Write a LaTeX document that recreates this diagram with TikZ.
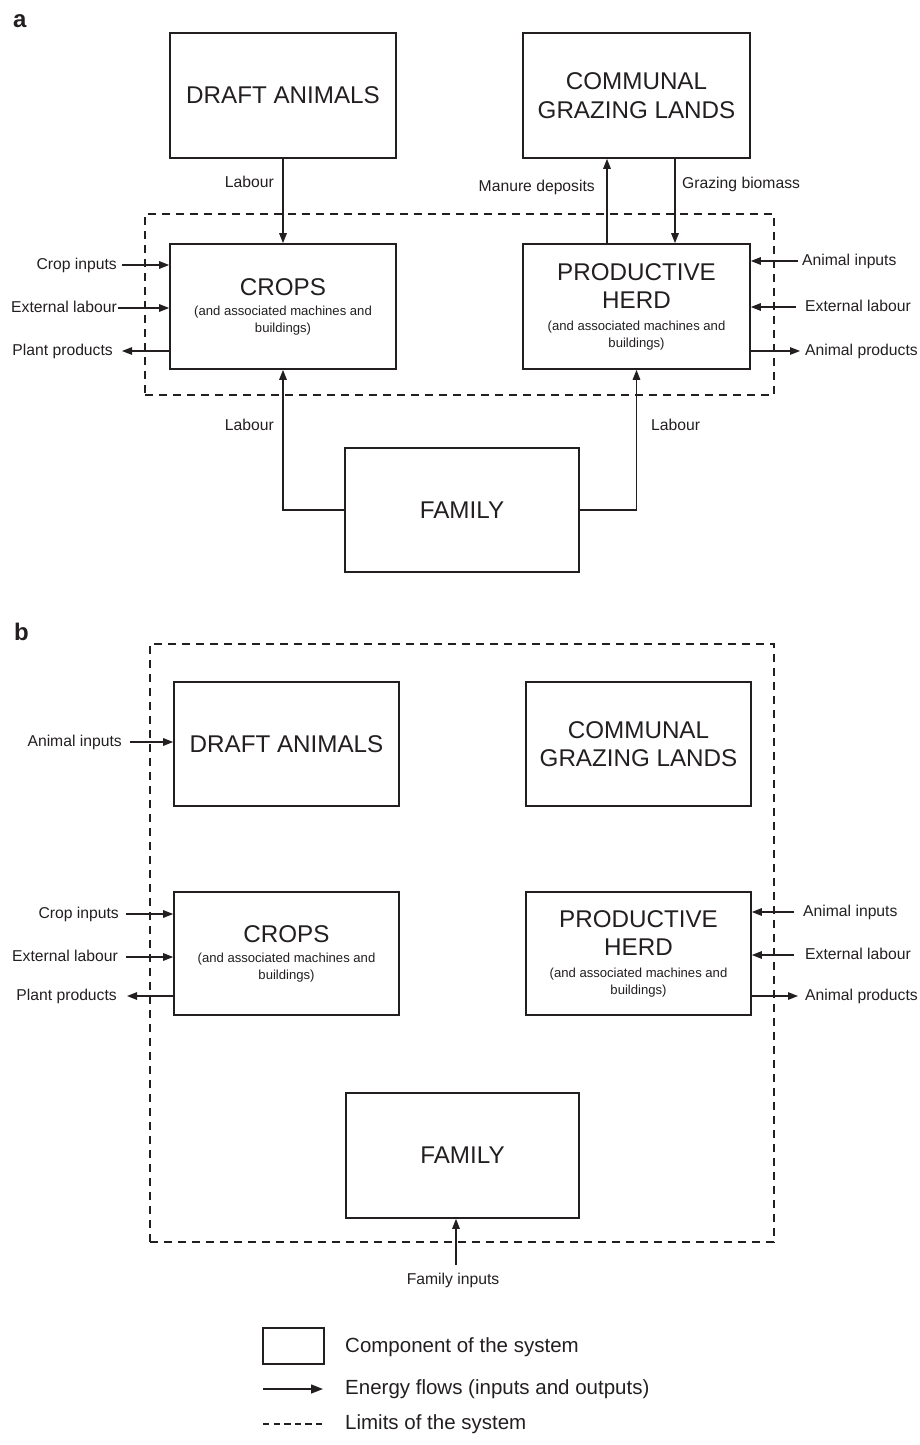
\documentclass[tikz,border=0pt]{standalone}
\usepackage{fontspec}
\setmainfont{Liberation Sans}
\usetikzlibrary{arrows.meta}
\definecolor{ink}{RGB}{35,31,32}
\newcommand\boxtitlefont{\fontsize{24.2}{28.5}\selectfont}
\newcommand\boxnotefont{\fontsize{13.1}{17}\selectfont}
\newcommand\flowlabelfont{\fontsize{15.7}{19}\selectfont}
\newcommand\legendfont{\fontsize{20.5}{24}\selectfont}
\newcommand\panelletterfont{\fontsize{24}{28}\selectfont\bfseries}
\begin{document}
\begin{tikzpicture}[x=1pt,y=-1pt,
  comp/.style={draw=ink, line width=1.6pt, inner sep=0pt, align=flush center, text=ink, font=\boxtitlefont},
  flow/.style={draw=ink, line width=1.3pt, -{Triangle[length=10pt,width=7.5pt]}},
  keyflow/.style={draw=ink, line width=1.5pt, -{Triangle[length=12pt,width=9pt]}},
  flowlbl/.style={inner sep=0pt, text=ink, font=\flowlabelfont, text height=11.5pt, text depth=3.4pt},
  keylbl/.style={inner sep=0pt, text=ink, font=\legendfont, anchor=west},
  limitbox/.style={draw=ink, line width=1.6pt, dash pattern=on 8.3pt off 5.7pt, inner sep=0pt},
  keylimit/.style={draw=ink, line width=1.3pt, dash pattern=on 6.4pt off 4.2pt},
  panel/.style={inner sep=0pt, text=ink, font=\panelletterfont, anchor=base west},
]
\useasboundingbox (0,0) rectangle (919,1445);

% ---------------- panel a ----------------
\node[panel] (pa) at (13,28) {a};
\node[limitbox, minimum width=629pt, minimum height=181pt] (sysA) at (459.5,304.5) {};

\node[comp, minimum width=226pt, minimum height=125pt] (da) at (283,95.5) {DRAFT ANIMALS};
\node[comp, text width=227pt, minimum height=125pt] (ca) at (636.5,95.5) {COMMUNAL\par GRAZING LANDS\par};
\node[comp, text width=226pt, minimum height=125pt, fill=white] (cra) at (283,306.5)
  {CROPS\par{\boxnotefont\vspace{3pt}(and associated machines and\par buildings)\par}};
\node[comp, text width=227pt, minimum height=125pt, fill=white] (ha) at (636.5,306.5)
  {PRODUCTIVE\par HERD\par{\boxnotefont\vspace{4.5pt}(and associated machines and\par buildings)\par}};
\node[comp, minimum width=234pt, minimum height=124pt] (fa) at (462,510) {FAMILY};

% flows between components
\draw[flow] (da.south) -- (cra.north);
\node[flowlbl, anchor=east] (labDA) at (274,183) {Labour};
\draw[flow] ([xshift=-29.5pt]ha.north) -- ([xshift=-29.5pt]ca.south);
\node[flowlbl, anchor=east] (manure) at (595,187) {Manure deposits};
\draw[flow] ([xshift=38.5pt]ca.south) -- ([xshift=38.5pt]ha.north);
\node[flowlbl, anchor=west] (graze) at (682,184) {Grazing biomass};
\draw[flow] (fa.west) -| (cra.south);
\draw[flow] (fa.east) -| (ha.south);
\node[flowlbl, anchor=east] (labFL) at (274,426) {Labour};
\node[flowlbl, anchor=west] (labFR) at (651,426) {Labour};

% external flows of the crops
\node[flowlbl, anchor=east] (ciA) at (117,265) {Crop inputs};
\draw[flow] ([xshift=5pt]ciA.east) -- (cra.west |- ciA.east);
\node[flowlbl, anchor=east] (elA) at (117,308) {External labour};
\draw[flow] ([xshift=1pt]elA.east) -- (cra.west |- elA.east);
\node[flowlbl, anchor=east] (ppA) at (113,351) {Plant products};
\draw[flow] (cra.west |- ppA.east) -- ([xshift=9pt]ppA.east);

% external flows of the herd
\node[flowlbl, anchor=west] (aiA) at (802,261) {Animal inputs};
\draw[flow] ([xshift=-4pt]aiA.west) -- (ha.east |- aiA.west);
\node[flowlbl, anchor=west] (erA) at (805,307) {External labour};
\draw[flow] ([xshift=-9pt]erA.west) -- (ha.east |- erA.west);
\node[flowlbl, anchor=west] (apA) at (805,351) {Animal products};
\draw[flow] (ha.east |- apA.west) -- ([xshift=-5pt]apA.west);

% ---------------- panel b ----------------
\node[panel] (pb) at (14,640) {b};
\node[limitbox, minimum width=624pt, minimum height=598pt] (sysB) at (462,943) {};

\node[comp, minimum width=225pt, minimum height=124pt, fill=white] (db) at (286.5,744) {DRAFT ANIMALS};
\node[comp, text width=225pt, minimum height=124pt] (cb) at (638.5,744) {COMMUNAL\par GRAZING LANDS\par};
\node[comp, text width=225pt, minimum height=123pt, fill=white] (crb) at (286.5,953.5)
  {CROPS\par{\boxnotefont\vspace{3pt}(and associated machines and\par buildings)\par}};
\node[comp, text width=225pt, minimum height=123pt, fill=white] (hb) at (638.5,953.5)
  {PRODUCTIVE\par HERD\par{\boxnotefont\vspace{4.5pt}(and associated machines and\par buildings)\par}};
\node[comp, minimum width=233pt, minimum height=125pt] (fb) at (462.5,1155.5) {FAMILY};

\node[flowlbl, anchor=east] (aiDB) at (122,742) {Animal inputs};
\draw[flow] ([xshift=8pt]aiDB.east) -- (db.west |- aiDB.east);

\node[flowlbl, anchor=east] (ciB) at (119,914) {Crop inputs};
\draw[flow] ([xshift=7pt]ciB.east) -- (crb.west |- ciB.east);
\node[flowlbl, anchor=east] (elB) at (118,957) {External labour};
\draw[flow] ([xshift=8pt]elB.east) -- (crb.west |- elB.east);
\node[flowlbl, anchor=east] (ppB) at (117,996) {Plant products};
\draw[flow] (crb.west |- ppB.east) -- ([xshift=10pt]ppB.east);

\node[flowlbl, anchor=west] (aiB) at (803,912) {Animal inputs};
\draw[flow] ([xshift=-9pt]aiB.west) -- (hb.east |- aiB.west);
\node[flowlbl, anchor=west] (erB) at (805,955) {External labour};
\draw[flow] ([xshift=-11pt]erB.west) -- (hb.east |- erB.west);
\node[flowlbl, anchor=west] (apB) at (805,996) {Animal products};
\draw[flow] (hb.east |- apB.west) -- ([xshift=-7pt]apB.west);

\coordinate (fiStart) at (456,1265);
\draw[flow] (fiStart) -- (fiStart |- fb.south);
\node[flowlbl] (fi) at (453,1280) {Family inputs};

% ---------------- legend ----------------
\node[comp, minimum width=61pt, minimum height=36pt] (keybox) at (293.5,1346) {};
\node[keylbl] (keyboxtxt) at (345,1347) {Component of the system};
\coordinate (keyA) at (263,1389);
\coordinate (keyB) at (323,1389);
\draw[keyflow] (keyA) -- (keyB);
\node[keylbl] (keyflowtxt) at (345,1389) {Energy flows (inputs and outputs)};
\coordinate (keyC) at (263,1424);
\coordinate (keyD) at (324,1424);
\draw[keylimit] (keyC) -- (keyD);
\node[keylbl] (keylimittxt) at (345,1424) {Limits of the system};
\end{tikzpicture}
\end{document}
